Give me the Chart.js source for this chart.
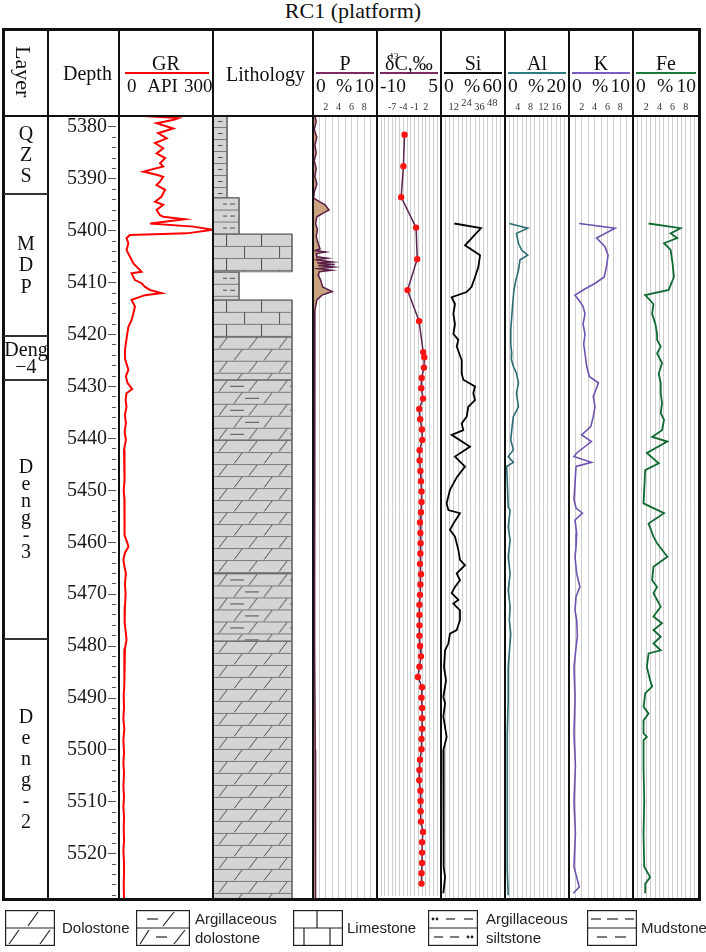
<!DOCTYPE html>
<html>
<head>
<meta charset="utf-8">
<title>RC1 (platform)</title>
<script src="https://cdn.jsdelivr.net/npm/chart.js@4.4.1/dist/chart.umd.min.js"></script>
<style>
  html, body { margin: 0; padding: 0; background: #fff; }
  #page { position: relative; width: 706px; height: 952px; overflow: hidden; font-family: "Liberation Serif", "Times New Roman", serif; color: #111; }
</style>
</head>
<body>
<div id="page"></div>
<script>
// ---------------- data ----------------
const yMin = 5377.7, yMax = 5528.9;
const depthLabels = [5380, 5390, 5400, 5410, 5420, 5430, 5440, 5450, 5460, 5470, 5480, 5490, 5500, 5510, 5520];
const depthTicks = [];
for (let d = 5378; d <= 5528; d += 2) depthTicks.push(d);

const layerNames = [['Q', 'Z', 'S'], ['M', 'D', 'P'], ['Deng', '\u22124'], ['D', 'e', 'n', 'g', '-', '3'], ['D', 'e', 'n', 'g', '-', '2']];
const layerTop = [5377.7, 5392.9, 5420.3, 5428.7, 5478.6];
const layerBottom = [5392.9, 5420.3, 5428.7, 5478.6, 5528.9];

// [depth m, GR API]
const grCurve = [
  [5377.9, 78], [5378.3, 189], [5378.6, 175], [5379.3, 120], [5380.3, 173], [5381.2, 125], [5382.2, 152],
  [5383.1, 115], [5384.1, 141], [5385.1, 120], [5386.0, 147], [5387.0, 131], [5387.6, 141], [5388.6, 78],
  [5389.2, 120], [5389.6, 141], [5390.5, 131], [5391.2, 120], [5392.1, 147], [5393.4, 136], [5394.4, 115],
  [5395.0, 141], [5396.0, 120], [5397.0, 131], [5397.3, 141], [5397.8, 210], [5398.6, 99], [5399.2, 237],
  [5399.8, 300], [5400.5, 216], [5400.8, 35], [5401.4, 24], [5402.4, 30], [5403.7, 24], [5405.0, 35],
  [5406.3, 46], [5407.9, 72], [5408.2, 40], [5409.5, 51], [5410.1, 72], [5410.8, 83], [5411.4, 99],
  [5412.0, 136], [5412.4, 83], [5413.3, 40], [5414.6, 51], [5415.9, 46], [5417.2, 40], [5418.5, 30],
  [5420.4, 25], [5423.0, 19], [5424.6, 19], [5426.8, 30], [5428.0, 22], [5429.3, 27], [5430.5, 42],
  [5431.3, 24], [5432.6, 21], [5433.9, 24], [5435.5, 19], [5437.1, 22], [5438.7, 18], [5440.3, 22],
  [5442.2, 16], [5444.0, 19], [5446.7, 16], [5448.3, 18], [5449.9, 15], [5451.5, 17], [5453.2, 19],
  [5455.0, 16], [5457.0, 19], [5458.6, 17], [5460.2, 27], [5460.9, 30], [5462.0, 19], [5463.4, 14],
  [5464.8, 18], [5466.0, 22], [5468.0, 19], [5470.0, 21], [5472.4, 19], [5474.0, 17], [5475.6, 19],
  [5477.5, 22], [5478.8, 24], [5480.5, 19], [5482.5, 17], [5485.2, 16], [5487.5, 18], [5489.5, 15],
  [5491.8, 16], [5494.0, 14], [5496.0, 17], [5498.1, 14], [5500.5, 16], [5502.5, 14], [5504.5, 16],
  [5507.0, 14], [5509.0, 16], [5511.0, 14], [5513.0, 16], [5515.0, 15], [5517.4, 16], [5519.5, 14],
  [5521.5, 16], [5523.7, 16], [5526.0, 15], [5528.8, 16]
];

// [depth, P %]
const pCurve = [
  [5377.8, 0.3], [5379.0, 0.5], [5380.5, 0.2], [5382.0, 0.6], [5383.5, 0.3], [5385.0, 0.5], [5386.5, 0.2],
  [5388.0, 0.5], [5389.5, 0.3], [5391.0, 0.6], [5392.5, 0.2], [5393.7, 0.1], [5394.4, 1.0], [5395.0, 1.9],
  [5396.0, 2.5], [5396.6, 1.6], [5397.3, 0.6], [5398.6, 0.4], [5399.8, 0.7], [5401.1, 0.5], [5402.4, 0.8],
  [5403.5, 1.1], [5403.8, 0.4], [5404.1, 2.0], [5404.4, 0.5], [5405.0, 0.6], [5405.3, 2.3], [5405.6, 0.6],
  [5406.0, 3.0], [5406.2, 0.7], [5406.5, 3.4], [5406.7, 0.8], [5407.0, 3.2], [5407.3, 0.9], [5407.6, 2.9],
  [5407.9, 1.0], [5408.5, 0.8], [5409.5, 1.2], [5410.8, 1.5], [5411.7, 3.0], [5412.4, 1.4], [5413.3, 0.6],
  [5415.3, 0.3], [5418.5, 0.2], [5425.0, 0.2], [5440.0, 0.25], [5460.0, 0.3], [5480.0, 0.3], [5500.0, 0.35],
  [5515.0, 0.4], [5528.8, 0.4]
];

// [depth, d13C permil]
const carbonCurve = [
  [5381.5, -3.7], [5387.6, -4.0], [5393.6, -4.6], [5399.5, -0.6], [5405.6, -0.3], [5411.6, -2.9], [5417.6, 0.2],
  [5423.6, 1.3], [5424.6, 1.6], [5426.6, 1.5], [5428.6, 0.9], [5430.6, 0.8], [5432.6, 1.25], [5434.6, 0.25],
  [5436.6, 0.5], [5438.6, 0.95], [5440.6, 1.05], [5442.6, 0.35], [5444.6, 0.35], [5446.6, 0.55], [5448.6, 0.7],
  [5450.6, 0.85], [5452.6, 0.85], [5454.6, 0.7], [5456.6, 0.45], [5458.6, 0.55], [5460.6, 0.6], [5462.6, 0.55],
  [5464.6, 0.45], [5466.6, 0.7], [5468.6, 0.55], [5470.6, 0.45], [5472.5, 0.3], [5474.5, 0.3], [5476.5, 0.3],
  [5478.5, 0.3], [5480.5, 0.45], [5482.5, 0.7], [5484.5, 0.3], [5486.5, -0.1], [5488.5, 1.0], [5490.5, 0.85],
  [5492.5, 1.0], [5494.5, 1.0], [5496.5, 1.0], [5498.5, 0.85], [5500.5, 0.85], [5502.5, 0.45], [5504.5, 0.3],
  [5506.5, 0.25], [5508.5, 0.55], [5510.5, 0.6], [5512.5, 0.6], [5514.5, 0.7], [5516.5, 1.25], [5518.5, 1.0],
  [5520.5, 1.0], [5522.5, 1.0], [5524.5, 0.85], [5526.5, 0.85]
];

// [depth, Si %]
const siCurve = [
  [5398.6, 12.5], [5399.5, 37.5], [5402.8, 22.5], [5404.7, 36.6], [5407.0, 35], [5408.9, 31.9], [5410.8, 28.7],
  [5411.8, 24], [5412.8, 10], [5414.1, 13.1], [5416.0, 11.6], [5418.0, 13.1], [5419.9, 11.6], [5421.0, 16.3],
  [5422.3, 14.7], [5424.9, 19.4], [5427.5, 19.4], [5428.7, 20.9], [5430.0, 31.9], [5431.3, 30.3], [5432.6, 31.9],
  [5433.9, 25.6], [5435.8, 24.1], [5437.1, 19.4], [5438.4, 20.9], [5439.3, 10], [5441.6, 27.2], [5443.5, 13.1],
  [5445.4, 22.5], [5447.4, 15], [5449.9, 8.4], [5452.5, 5.3], [5453.8, 6.9], [5454.4, 17.8], [5456.4, 11.6],
  [5457.6, 8.4], [5458.9, 13.1], [5461.5, 16.3], [5463.4, 17.8], [5464.4, 22.5], [5466.0, 14.7], [5467.3, 17.8],
  [5468.6, 13.1], [5469.8, 10], [5471.1, 16.3], [5471.8, 11.6], [5473.1, 17.8], [5475.0, 17.8], [5476.9, 14.7],
  [5477.6, 8.4], [5479.5, 6.9], [5480.8, 3.8], [5484.0, 2.8], [5486.6, 4.7], [5489.8, 2.2], [5491.0, 3.8],
  [5493.6, 2.2], [5497.5, 5.3], [5500.1, 2.2], [5503.3, 2.8], [5509.8, 2.2], [5516.2, 2.8], [5522.5, 2.2],
  [5524.5, 3.8], [5527.6, 2.2]
];

// [depth, Al %]
const alCurve = [
  [5398.6, 1.35], [5399.5, 7.1], [5400.5, 3.6], [5402.4, 4.2], [5403.7, 5.2], [5404.7, 7.1], [5405.6, 4.7],
  [5407.6, 4.2], [5409.5, 3.4], [5411.4, 2.8], [5414.1, 2.4], [5416.6, 2.1], [5419.2, 1.8], [5421.8, 1.8],
  [5423.6, 2.1], [5424.8, 2.0], [5426.1, 2.6], [5427.5, 3.6], [5429.3, 4.2], [5431.3, 3.6], [5433.9, 4.2],
  [5435.8, 2.6], [5438.4, 2.1], [5440.3, 1.8], [5442.2, 2.6], [5443.5, 1.0], [5444.6, 2.6], [5445.4, 0.5],
  [5448.0, 0.7], [5453.2, 1.0], [5453.8, 1.6], [5457.0, 1.0], [5459.6, 1.6], [5462.8, 1.0], [5466.0, 1.6],
  [5469.2, 1.0], [5472.4, 1.6], [5475.0, 1.35], [5477.6, 1.8], [5484.0, 1.0], [5490.5, 1.0], [5497.0, 0.7],
  [5503.0, 0.7], [5510.0, 0.7], [5516.0, 0.7], [5523.0, 0.7], [5528.0, 1.0]
];

// [depth, K %]
const kCurve = [
  [5398.6, 1.6], [5399.5, 7.2], [5401.4, 4.3], [5403.0, 5.6], [5404.7, 6.1], [5406.6, 5.9], [5408.9, 5.5],
  [5410.1, 4.1], [5411.4, 2.2], [5412.4, 0.94], [5413.6, 1.7], [5414.6, 2.2], [5416.0, 2.5], [5418.0, 2.2],
  [5419.9, 2.5], [5421.8, 2.3], [5423.6, 2.5], [5426.1, 2.76], [5428.1, 3.2], [5429.3, 4.6], [5431.9, 3.8],
  [5433.9, 4.06], [5435.8, 3.8], [5437.7, 3.4], [5439.3, 1.98], [5440.6, 3.5], [5442.8, 1.2], [5443.5, 0.78],
  [5444.6, 3.5], [5445.4, 1.1], [5448.6, 0.94], [5451.8, 0.78], [5453.4, 1.1], [5454.4, 2.1], [5455.7, 0.94],
  [5458.3, 1.2], [5460.9, 1.1], [5462.8, 0.94], [5466.0, 1.2], [5468.6, 1.7], [5470.5, 1.1], [5473.1, 0.94],
  [5475.0, 1.2], [5478.0, 1.3], [5484.0, 0.78], [5490.0, 0.94], [5497.0, 0.78], [5503.0, 1.0], [5510.0, 0.78],
  [5516.0, 1.0], [5522.5, 0.78], [5526.4, 1.6], [5527.6, 0.68]
];

// [depth, Fe %]
const feCurve = [
  [5398.6, 2.36], [5399.5, 7.2], [5400.5, 5.7], [5401.4, 6.7], [5402.4, 4.7], [5403.7, 5.7], [5406.3, 6.0],
  [5408.9, 6.2], [5411.4, 5.4], [5412.4, 1.85], [5414.1, 3.1], [5416.0, 2.9], [5418.0, 3.4], [5419.9, 3.65],
  [5421.0, 3.65], [5422.3, 4.2], [5423.6, 3.65], [5425.5, 4.4], [5427.5, 3.9], [5429.3, 4.2], [5431.3, 4.2],
  [5433.2, 4.4], [5435.1, 4.2], [5436.4, 4.7], [5438.4, 4.4], [5439.7, 2.9], [5440.6, 5.2], [5442.8, 2.1],
  [5444.8, 3.9], [5446.1, 1.85], [5452.5, 1.6], [5454.4, 4.7], [5456.4, 2.36], [5458.9, 3.1], [5460.2, 3.65],
  [5462.8, 5.2], [5464.7, 3.1], [5467.3, 2.9], [5468.6, 3.65], [5469.8, 3.1], [5472.4, 4.2], [5474.3, 3.1],
  [5475.6, 4.4], [5476.9, 3.1], [5478.2, 4.2], [5479.5, 3.1], [5480.8, 4.2], [5481.4, 2.36], [5484.0, 2.1],
  [5486.6, 2.6], [5487.8, 2.9], [5489.1, 1.85], [5491.7, 1.6], [5493.0, 2.36], [5494.3, 1.6], [5496.8, 1.6],
  [5497.5, 2.1], [5498.1, 1.6], [5503.3, 1.6], [5509.8, 1.7], [5516.2, 1.6], [5522.5, 1.7], [5524.5, 2.6],
  [5525.8, 1.85], [5527.6, 1.85]
];

// lithology intervals
const lithTop = [5377.7, 5393.6, 5400.6, 5407.9, 5413.3, 5420.4, 5428.7, 5440.3, 5466.0, 5479.0];
const lithBottom = [5393.6, 5400.6, 5407.9, 5413.3, 5420.4, 5428.7, 5440.3, 5466.0, 5479.0, 5528.9];
const lithType = ['mudstone', 'siltstone', 'limestone', 'siltstone', 'limestone', 'dolostone', 'argDolostone', 'dolostone', 'argDolostone', 'dolostone'];

// header tick labels
const pTicks = [2, 4, 6, 8];
const cTicks = [-7, -4, -1, 2];
const siTicks = [12, 24, 36, 48];
const siTicksRaised = [24, 48];
const alTicks = [4, 8, 12, 16];
const kTicks = [2, 4, 6, 8];
const feTicks = [2, 4, 6, 8];

const legendNames = ['Dolostone', 'Argillaceous<br>dolostone', 'Limestone', 'Argillaceous<br>siltstone', 'Mudstone'];

// ---------------- page helpers ----------------
const TOP = 115, BOTTOM = 900;
const page = document.getElementById('page');
const SERIF = '"Liberation Serif", "Times New Roman", serif';
const SANS = '"Liberation Sans", Arial, sans-serif';
Chart.defaults.font.family = SERIF;

function el(tag, css, html) {
  const e = document.createElement(tag);
  e.style.cssText = css;
  if (html !== undefined) e.innerHTML = html;
  page.appendChild(e);
  return e;
}
function rect(l, t, w, h, bg) {
  return el('div', `position:absolute;left:${l}px;top:${t}px;width:${w}px;height:${h}px;background:${bg};z-index:5`);
}
function label(html, x, base, size, align, opt) {
  opt = opt || {};
  const fam = opt.sans ? SANS : SERIF;
  const k = opt.sans ? 0.8465 : 0.8375;
  const w = 300;
  const left = align === 'center' ? x - w / 2 : align === 'right' ? x - w : x;
  return el('div', `position:absolute;left:${left}px;top:${base - k * size}px;width:${w}px;font-family:${fam};font-size:${size}px;line-height:${size}px;text-align:${align};white-space:nowrap;color:${opt.color || '#111'};z-index:6`, html);
}
function canvasAt(l, t, w, h) {
  const c = document.createElement('canvas');
  c.width = w; c.height = h;
  c.style.cssText = `position:absolute;left:${l}px;top:${t}px;width:${w}px;height:${h}px;z-index:1`;
  page.appendChild(c);
  return c;
}
function baseOptions(scales) {
  return {
    responsive: false, animation: false, indexAxis: 'y', events: [],
    layout: { padding: 0 },
    plugins: { legend: { display: false }, tooltip: { enabled: false } },
    scales: scales
  };
}
const toXY = curve => curve.map(p => ({ x: p[1], y: p[0] }));

// ---------------- depth axis ----------------
const depthChart = new Chart(canvasAt(48, TOP, 70, BOTTOM - TOP), {
  type: 'line',
  data: { datasets: [] },
  options: baseOptions({
    x: { type: 'linear', display: false, min: 0, max: 1 },
    y: {
      type: 'linear', position: 'left', reverse: true, min: yMin, max: yMax,
      afterFit: s => { s.width = 68; s.paddingTop = 0; s.paddingBottom = 0; },
      afterBuildTicks: s => { s.ticks = depthTicks.map(v => ({ value: v })); },
      border: { display: false },
      grid: {
        drawOnChartArea: false, drawTicks: true, tickLength: 8, tickColor: '#555', tickWidth: 1,
        tickBorderDash: c => (c.tick && depthLabels.includes(c.tick.value)) ? [] : [0, 4, 4, 40]
      },
      ticks: {
        autoSkip: false, padding: 1, color: '#1a1a1a', font: { family: SERIF, size: 20 },
        callback: v => depthLabels.includes(v) ? String(v) : ''
      }
    }
  })
});

// ---------------- tracks ----------------
function makeTrack(cfg) {
  const labelH = cfg.labels ? 18 : 0;
  const scales = {
    x: {
      type: 'linear', position: 'bottom', min: cfg.min, max: cfg.max, display: !!cfg.grid,
      ticks: { display: false, count: cfg.grid || 2 },
      grid: { color: '#cfcfcf', lineWidth: 1, drawTicks: false },
      border: { display: false }
    },
    y: { type: 'linear', display: false, reverse: true, min: yMin, max: yMax }
  };
  if (cfg.labels) {
    const raised = cfg.raised || [];
    scales.xt = {
      type: 'linear', position: 'top', min: cfg.min, max: cfg.max,
      afterFit: s => { s.height = labelH; },
      afterBuildTicks: s => { s.ticks = cfg.labels.map(v => ({ value: v })); },
      grid: { display: false, drawTicks: false }, border: { display: false },
      ticks: {
        autoSkip: false, maxRotation: 0, minRotation: 0, padding: 1.5, color: '#333',
        font: c => (c.tick && raised.includes(c.tick.value))
          ? { family: SERIF, size: cfg.labelSize || 10, lineHeight: '7px' }
          : { family: SERIF, size: cfg.labelSize || 10, lineHeight: 1.2 },
        callback: v => raised.includes(v) ? [String(v), ''] : String(v)
      }
    };
  }
  const cv = canvasAt(cfg.left, TOP - labelH, cfg.right - cfg.left, BOTTOM - TOP + labelH);
  return new Chart(cv, { type: 'line', data: { datasets: cfg.datasets }, options: baseOptions(scales) });
}
function curveSet(curve, color, width, extra) {
  return Object.assign({ data: toXY(curve), borderColor: color, borderWidth: width, pointRadius: 0, fill: false, tension: 0 }, extra || {});
}

makeTrack({ left: 119, right: 213, min: 0, max: 300, datasets: [curveSet(grCurve, '#ff0000', 2)] });

// lithology patterns
const tileSize = { dolostone: [30, 24], argDolostone: [60, 24], limestone: [35, 24], mudstone: [14, 12], siltstone: [26, 12] };
const lithWidth = { mudstone: 14, siltstone: 26, limestone: 79, dolostone: 79, argDolostone: 79 };
function makeTile(type) {
  const [w, h] = tileSize[type];
  const c = document.createElement('canvas');
  c.width = w; c.height = h;
  const g = c.getContext('2d');
  g.fillStyle = '#d4d4d4'; g.fillRect(0, 0, w, h);
  const ln = (x1, y1, x2, y2) => { g.beginPath(); g.moveTo(x1, y1); g.lineTo(x2, y2); g.stroke(); };
  g.lineWidth = 1; g.strokeStyle = '#7a7a7a';
  for (let y = 0.5; y < h; y += 12) ln(0, y, w, y);
  g.strokeStyle = '#505050';
  if (type === 'dolostone') { ln(6, 11.5, 14, 1); ln(21, 23.5, 29, 13); }
  if (type === 'argDolostone') {
    ln(6, 11.5, 14, 1); ln(36, 11.5, 44, 1); ln(17, 6.5, 31, 6.5);
    ln(21, 23.5, 29, 13); ln(51, 23.5, 59, 13); ln(32, 18.5, 46, 18.5);
  }
  if (type === 'limestone') { ln(13.5, 0.5, 13.5, 12.5); ln(31.5, 12.5, 31.5, 24); }
  if (type === 'mudstone') ln(5, 6.5, 9.5, 6.5);
  if (type === 'siltstone') { ln(10, 6.5, 14, 6.5); ln(17, 6.5, 22, 6.5); }
  return c;
}
const patternCache = {};
function lithPattern(chart, type, top) {
  const ys = chart.scales && chart.scales.y;
  const off = ys ? ys.getPixelForValue(top) : 0;
  const key = type + '@' + Math.round(off * 10);
  if (!patternCache[key]) {
    const p = chart.ctx.createPattern(makeTile(type), 'repeat');
    p.setTransform(new DOMMatrix([1, 0, 0, 1, 0, off]));
    patternCache[key] = p;
  }
  return patternCache[key];
}
makeTrack({
  left: 213, right: 313, min: 0, max: 100,
  datasets: lithType.map((t, i) => ({
    data: [{ x: 0, y: lithTop[i] }, { x: lithWidth[t], y: lithTop[i] }, { x: lithWidth[t], y: lithBottom[i] }, { x: 0, y: lithBottom[i] }],
    fill: 'origin', borderColor: '#6e6e6e', borderWidth: 1, pointRadius: 0, tension: 0,
    backgroundColor: c => lithPattern(c.chart, t, lithTop[i])
  }))
});

makeTrack({ left: 313, right: 377, min: 0, max: 10, grid: 11, labels: pTicks,
  datasets: [curveSet(pCurve, '#5a1e48', 1.5, { fill: 'origin', backgroundColor: '#c9a47e' })] });
makeTrack({ left: 377, right: 441, min: -10, max: 5, grid: 16, labels: cTicks,
  datasets: [curveSet(carbonCurve, '#5a2350', 1.5, { pointRadius: 3.2, pointBackgroundColor: '#ff1414', pointBorderWidth: 0, pointBorderColor: '#ff1414' })] });
makeTrack({ left: 441, right: 505, min: 0, max: 60, grid: 16, labels: siTicks, raised: siTicksRaised, labelSize: 10.5,
  datasets: [curveSet(siCurve, '#000000', 1.8)] });
makeTrack({ left: 505, right: 569, min: 0, max: 20, grid: 16, labels: alTicks,
  datasets: [curveSet(alCurve, '#2a6b74', 1.6)] });
makeTrack({ left: 569, right: 633, min: 0, max: 10, grid: 11, labels: kTicks,
  datasets: [curveSet(kCurve, '#6e52b0', 1.6)] });
makeTrack({ left: 633, right: 699, min: 0, max: 10, grid: 16, labels: feTicks,
  datasets: [curveSet(feCurve, '#0f6a32', 1.8)] });

// ---------------- frame ----------------
rect(2, 28, 699, 3, '#111');
rect(2, 898, 699, 3, '#111');
rect(2, 28, 3, 873, '#111');
rect(698, 28, 3, 873, '#111');
rect(3, 114.5, 697, 2, '#111');
[48, 119, 213, 313, 377, 441, 505, 569, 633].forEach(x => rect(x - 1, 29, 2, 871, '#111'));

// layer column, placed with the depth scale
const ds = depthChart.scales.y;
const layerLH = [21, 21.5, 17, 17, 21];
layerNames.forEach((lines, i) => {
  const t = ds.getPixelForValue(layerTop[i]) + TOP;
  const b = ds.getPixelForValue(layerBottom[i]) + TOP;
  if (i > 0) rect(4, t - 1, 44, 2, '#333');
  el('div', `position:absolute;left:4px;top:${t}px;width:44px;height:${b - t}px;display:flex;align-items:center;justify-content:center;z-index:6;font-size:20px;line-height:${layerLH[i]}px;text-align:center;color:#111`,
    '<div>' + lines.join('<br>') + '</div>');
});

// ---------------- header ----------------
label('RC1 (platform)', 353, 18.5, 22, 'center');
el('div', `position:absolute;left:11px;top:46px;height:60px;width:24px;writing-mode:vertical-rl;font-size:22px;line-height:24px;z-index:6`, 'Layer');
label('Depth', 87.5, 80, 20, 'center');
label('Lithology', 265.5, 81, 20, 'center');

label('GR', 166, 70, 20, 'center');
rect(125, 72, 84, 2, '#ff0000');
label('0', 127, 92, 19, 'left');
label('API', 162.5, 92, 19, 'center');
label('300', 212.5, 92, 19, 'right');

const heads = [
  { name: 'P', l: 313, r: 377, c: '#7a2c5e', lo: '0', mid: '%', hi: '10' },
  { name: '\u03b4C,\u2030', l: 377, r: 441, c: '#7a2c5e', lo: '-10', mid: '', hi: '5' },
  { name: 'Si', l: 441, r: 505, c: '#111111', lo: '0', mid: '%', hi: '60' },
  { name: 'Al', l: 505, r: 569, c: '#2e7a82', lo: '0', mid: '%', hi: '20' },
  { name: 'K', l: 569, r: 633, c: '#7a5cc0', lo: '0', mid: '%', hi: '10' },
  { name: 'Fe', l: 633, r: 699, c: '#1a7a3a', lo: '0', mid: '%', hi: '10' }
];
heads.forEach(h => {
  const cx = (h.l + h.r) / 2;
  label(h.name, cx, 70, 20, 'center');
  rect(h.l + 3, 72, h.r - h.l - 6, 2, h.c);
  label(h.lo, h.l + 3, 92, 19.5, 'left');
  if (h.mid) label(h.mid, cx - 1, 92, 19.5, 'center');
  label(h.hi, h.r - 3, 92, 19.5, 'right');
});
// small "13" sitting on the delta
label('13', 389.5, 59.5, 9, 'left');

// ---------------- lithology legend ----------------
function legendSymbol(x, y, w, h, draw) {
  const c = document.createElement('canvas');
  c.width = w; c.height = h;
  c.style.cssText = `position:absolute;left:${x}px;top:${y}px;z-index:4`;
  page.appendChild(c);
  const g = c.getContext('2d');
  g.strokeStyle = '#222'; g.lineWidth = 1.2;
  g.strokeRect(0.6, 0.6, w - 1.2, h - 1.2);
  const ln = (x1, y1, x2, y2) => { g.beginPath(); g.moveTo(x1, y1); g.lineTo(x2, y2); g.stroke(); };
  ln(0, h / 2, w, h / 2);
  const dot = (px, py) => { g.beginPath(); g.arc(px, py, 1.4, 0, Math.PI * 2); g.fillStyle = '#222'; g.fill(); };
  draw(ln, dot, w, h);
}
const LY = 910, LH = 36;
legendSymbol(5, LY, 50, LH, (ln) => { ln(23, 16, 33, 2); ln(4, 34, 14, 20); ln(35, 34, 45, 20); });
legendSymbol(136, LY, 54, LH, (ln) => { ln(11, 9, 22, 9); ln(27, 16, 38, 2); ln(4, 34, 13, 20); ln(20, 27, 31, 27); ln(38, 34, 49, 20); });
legendSymbol(293, LY, 50, LH, (ln) => { ln(24, 0, 24, 18); ln(11, 18, 11, 36); ln(37, 18, 37, 36); });
legendSymbol(428, LY, 50, LH, (ln, dot) => { dot(5, 9); dot(9, 9); ln(18, 9, 27, 9); ln(36, 9, 45, 9); ln(6, 27, 15, 27); ln(22, 27, 31, 27); dot(40, 27); dot(44, 27); });
legendSymbol(587, LY, 50, LH, (ln) => { ln(4, 9, 14, 9); ln(20, 9, 31, 9); ln(38, 9, 47, 9); ln(10, 27, 20, 27); ln(28, 27, 39, 27); });

const legendX = [62, 195, 347, 486, 641];
legendNames.forEach((n, i) => {
  if (n.indexOf('<br>') >= 0) {
    const parts = n.split('<br>');
    label(parts[0], legendX[i], 924, 15, 'left', { sans: true, color: '#222' });
    label(parts[1], legendX[i], 943, 15, 'left', { sans: true, color: '#222' });
  } else {
    label(n, legendX[i], 933, 15, 'left', { sans: true, color: '#222' });
  }
});
</script>
</body>
</html>
